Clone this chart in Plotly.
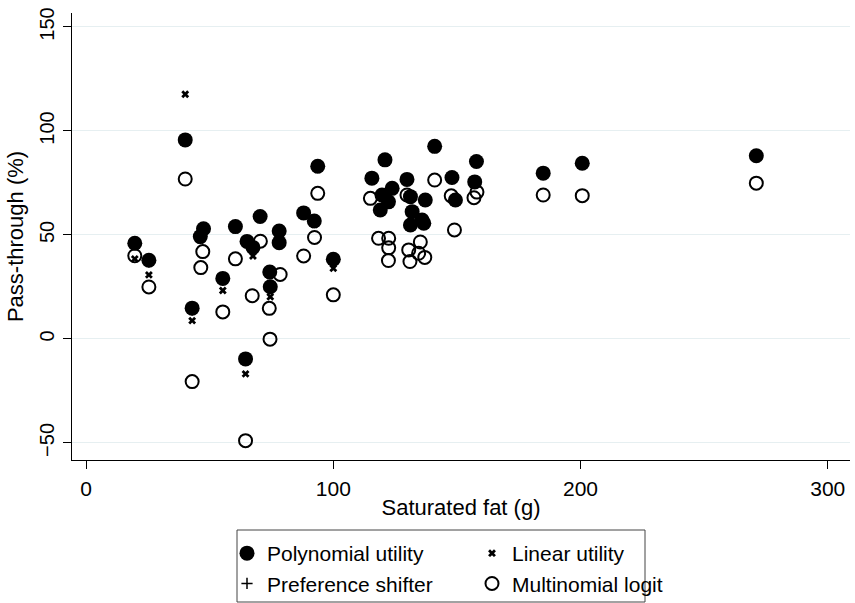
import plotly.graph_objects as go

# Pass-through estimates by product, plotted against saturated fat content (g)

# Polynomial utility model
poly_x = [19.7, 25.4, 40.1, 42.9, 46.2, 47.5, 55.3, 60.4, 64.5, 65.1,
          67.5, 70.4, 74.3, 74.5, 78.1, 78.1, 88.0, 92.3, 93.7, 100.0,
          115.6, 120.9, 119.0, 119.7, 123.8, 122.3, 129.8, 131.2, 137.2, 131.9,
          135.9, 131.2, 136.6, 141.0, 148.0, 149.4, 157.9, 157.2, 184.9, 200.7,
          271.1]
poly_y = [46.0, 37.8, 95.7, 14.8, 49.2, 53.0, 29.1, 54.0, -9.6, 46.9,
          44.0, 58.9, 32.2, 25.1, 51.9, 46.3, 60.6, 56.7, 83.0, 38.3,
          77.3, 86.1, 62.0, 69.2, 72.4, 65.9, 76.7, 68.4, 66.8, 61.2,
          57.2, 54.8, 55.6, 92.6, 77.6, 66.8, 85.3, 75.5, 79.7, 84.5,
          88.1]

# Linear utility model
lin_x = poly_x
lin_y = [38.5, 30.8, 117.6, 8.8, 47.5, 51.5, 23.3, 52.5, -16.8, 45.5,
         39.9, 57.5, 30.5, 20.3, 50.5, 45.0, 59.0, 55.0, 81.5, 34.0,
         76.0, 84.5, 60.5, 68.0, 71.0, 64.5, 75.5, 67.0, 65.5, 60.0,
         56.0, 53.5, 54.5, 91.0, 76.5, 65.5, 84.0, 74.5, 78.5, 83.5,
         87.0]

# Preference shifter model
pref_x = poly_x
pref_y = [45.5, 37.0, 95.0, 14.0, 48.5, 52.5, 28.5, 53.5, -10.0, 46.5,
          43.5, 58.5, 31.5, 24.5, 51.5, 46.0, 60.0, 56.5, 82.5, 37.5,
          77.0, 85.5, 61.5, 69.0, 72.0, 65.5, 76.5, 68.0, 66.5, 61.0,
          57.0, 54.5, 55.5, 92.0, 77.0, 66.5, 85.0, 75.0, 79.5, 84.0,
          88.0]

# Multinomial logit model
logit_x = [19.7, 25.4, 40.1, 42.9, 46.4, 47.2, 55.3, 60.4, 64.5, 67.2,
           70.5, 74.1, 74.4, 78.5, 88.0, 92.4, 93.7, 100.0, 115.0, 118.3,
           122.4, 122.4, 122.3, 129.8, 130.5, 131.0, 135.2, 134.5, 137.0, 141.0,
           147.7, 149.0, 158.1, 156.9, 184.9, 200.7, 271.1]
logit_y = [40.0, 25.0, 76.9, -20.5, 34.3, 42.0, 13.0, 38.5, -48.9, 20.8,
           47.0, 14.7, -0.1, 31.0, 39.9, 48.8, 70.0, 21.2, 67.6, 48.4,
           48.4, 43.8, 37.7, 69.2, 42.8, 37.2, 46.6, 41.2, 39.2, 76.4,
           68.8, 52.4, 70.6, 67.9, 69.2, 68.9, 74.9]

x_ticks = [0, 100, 200, 300]
y_ticks = [-50, 0, 50, 100, 150]

FONT = "Liberation Sans, Arial, sans-serif"
W, H = 855, 603
M = dict(l=72, r=5, t=13, b=143)
PW = W - M["l"] - M["r"]
PH = H - M["t"] - M["b"]


def px_x(p):
    return (p - M["l"]) / PW


def px_y(p):
    return (H - M["b"] - p) / PH


fig = go.Figure()

fig.add_trace(go.Scatter(
    x=poly_x, y=poly_y, mode="markers", name="Polynomial utility",
    marker=dict(symbol="circle", size=15, color="black"),
    legend="legend", legendrank=1))
fig.add_trace(go.Scatter(
    x=lin_x, y=lin_y, mode="markers", name="Linear utility",
    marker=dict(symbol="x", size=7, color="black"),
    legend="legend2", legendrank=1))
fig.add_trace(go.Scatter(
    x=pref_x, y=pref_y, mode="markers", name="Preference shifter",
    marker=dict(symbol="cross-thin", size=8, color="black",
                line=dict(width=1.5, color="black")),
    legend="legend", legendrank=2))
fig.add_trace(go.Scatter(
    x=logit_x, y=logit_y, mode="markers", name="Multinomial logit",
    marker=dict(symbol="circle-open", size=13, color="black",
                line=dict(width=2, color="black")),
    legend="legend2", legendrank=2))

legend_common = dict(
    orientation="v", xanchor="left", yanchor="top",
    bgcolor="rgba(0,0,0,0)", borderwidth=0, tracegroupgap=0,
    font=dict(family=FONT, size=21, color="black"),
)

fig.update_layout(
    width=W, height=H,
    margin=dict(**M, autoexpand=False),
    paper_bgcolor="white", plot_bgcolor="white",
    font=dict(family=FONT, color="black"),
    showlegend=True,
    legend=dict(x=px_x(227), y=px_y(533), **legend_common),
    legend2=dict(x=px_x(472), y=px_y(533), **legend_common),
    xaxis=dict(
        range=[-5.7, 309], tickvals=x_ticks, ticks="outside", ticklen=8,
        tickcolor="black", showline=True, linecolor="black", linewidth=1,
        showgrid=False, zeroline=False, ticklabelstandoff=2,
        tickfont=dict(size=21, family=FONT, color="black"),
        title=dict(text="Saturated fat (g)", standoff=0,
                   font=dict(size=22, family=FONT, color="black")),
    ),
    yaxis=dict(
        range=[-58.2, 156.7], tickvals=y_ticks, ticks="outside", ticklen=8,
        tickcolor="black", showline=True, linecolor="black", linewidth=1,
        showgrid=True, gridcolor="#e6eff1", gridwidth=1, zeroline=False,
        tickangle=-90, ticklabelstandoff=1,
        tickfont=dict(size=20, family=FONT, color="black"),
        title=dict(text="Pass-through (%)", standoff=6,
                   font=dict(size=22, family=FONT, color="black")),
    ),
    shapes=[dict(
        type="rect", xref="paper", yref="paper",
        x0=px_x(237), x1=px_x(645), y0=px_y(602), y1=px_y(530),
        line=dict(color="#444444", width=1), fillcolor="rgba(0,0,0,0)",
    )],
)

fig.write_html("out.html")
